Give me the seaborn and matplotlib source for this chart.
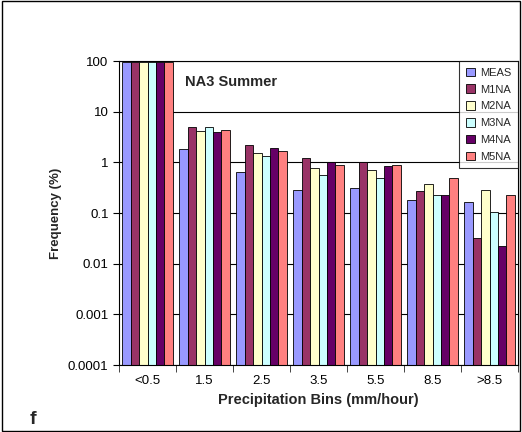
import matplotlib
matplotlib.use("Agg")
import matplotlib.pyplot as plt
import seaborn as sns
import pandas as pd
from matplotlib.ticker import FixedLocator, FixedFormatter, NullLocator

bins = ["<0.5", "1.5", "2.5", "3.5", "5.5", "8.5", ">8.5"]
series = ["MEAS", "M1NA", "M2NA", "M3NA", "M4NA", "M5NA"]
MEAS = [97, 1.86, 0.635, 0.29, 0.31, 0.18, 0.165]
M1NA = [97, 5.0, 2.24, 1.23, 1.03, 0.27, 0.032]
M2NA = [97, 4.1, 1.5, 0.77, 0.7, 0.37, 0.29]
M3NA = [97, 5.0, 1.35, 0.57, 0.5, 0.23, 0.107]
M4NA = [97, 4.0, 1.95, 1.0, 0.85, 0.23, 0.022]
M5NA = [97, 4.4, 1.65, 0.9, 0.89, 0.48, 0.23]
colors = ["#9999FF", "#993366", "#FFFFCC", "#CCFFFF", "#660066", "#FF8080"]

rows = []
for name, vals in zip(series, [MEAS, M1NA, M2NA, M3NA, M4NA, M5NA]):
    for b, v in zip(bins, vals):
        rows.append({"bin": b, "series": name, "value": v})
df = pd.DataFrame(rows)

sns.set_style("white")
plt.rcParams['font.family'] = ['Liberation Sans', 'DejaVu Sans']
fig = plt.figure(figsize=(5.22, 4.32), dpi=100)
fig.patches.append(plt.Rectangle((0.003, 0.003), 0.994, 0.994, transform=fig.transFigure,
                                 fill=False, edgecolor="black", linewidth=1))
ax = fig.add_axes([119/522, 1-365/432, 399/522, 304/432])
sns.barplot(data=df, x="bin", y="value", hue="series", palette=colors, order=bins,
            hue_order=series, edgecolor="black", linewidth=0.6, width=0.88, ax=ax,
            saturation=1)
ax.set_yscale("log")
ax.set_ylim(0.0001, 100)
ticks = [0.0001, 0.001, 0.01, 0.1, 1, 10, 100]
ax.yaxis.set_major_locator(FixedLocator(ticks))
ax.yaxis.set_major_formatter(FixedFormatter(["0.0001", "0.001", "0.01", "0.1", "1", "10", "100"]))
ax.yaxis.set_minor_locator(NullLocator())
ax.yaxis.grid(True, color="black", linewidth=0.8)
ax.set_axisbelow(True)
for s in ax.spines.values():
    s.set_color("black"); s.set_linewidth(0.8)
ax.tick_params(axis="both", labelsize=9.5, length=4, direction="out", left=True, bottom=False, colors="black")
ax.set_xticks([i - 0.5 for i in range(8)], minor=True)
ax.tick_params(axis="x", which="minor", length=5, bottom=True)
ax.set_xlabel("Precipitation Bins (mm/hour)", fontsize=10.5, fontweight="bold")
ax.set_ylabel("Frequency (%)", fontsize=9.5, fontweight="bold")
ax.text(0.165, 0.955, "NA3 Summer", transform=ax.transAxes, fontsize=10.5, fontweight="bold", va="top")
leg = ax.legend(loc="upper right", fontsize=8, frameon=True, fancybox=False, edgecolor="black",
                handlelength=0.8, handleheight=0.8, borderaxespad=0, labelspacing=0.6,
                borderpad=0.6, handletextpad=0.5)
leg.get_frame().set_linewidth(0.8)
fig.text(30/522, 1-420/432, "f", fontsize=14, fontweight="bold", va="center")
fig.savefig("out.png", dpi=100)
